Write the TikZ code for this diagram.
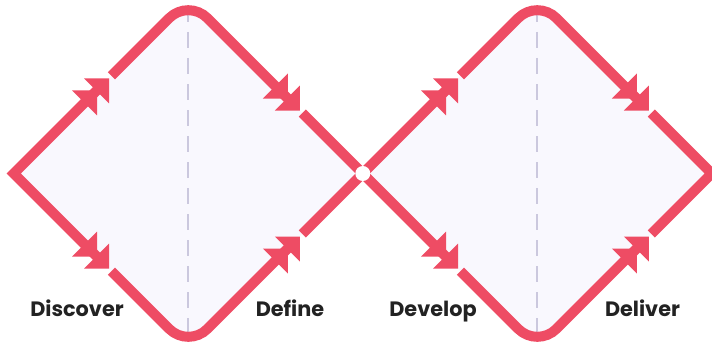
\documentclass[tikz,border=0pt]{standalone}
\usepackage{fontspec}
\setmainfont{Poppins}
\usetikzlibrary{calc}
\definecolor{dred}{HTML}{EE4C64}
\definecolor{lav}{HTML}{F9F8FE}
\definecolor{dashc}{HTML}{CBC8DE}
\definecolor{txt}{HTML}{222222}
\tikzset{
  edge/.style={draw=dred,line width=10pt},
  roundedge/.style={edge,rounded corners=27pt},
  headfill/.style={fill=dred},
  divider/.style={draw=dashc,line width=1.8pt,dash pattern=on 16pt off 10pt},
  phase/.style={font=\fontsize{20.8}{24}\selectfont\bfseries,text=txt,anchor=base,inner sep=0pt},
  junction/.style={circle,fill=white,minimum size=15pt,inner sep=0pt}
}
\newcommand\dblhead[4]{%
  \fill[headfill] (#1-12*#3,#2-12*#4) -- ++(-25*#3,0) -- ++(25*#3,-25*#4) -- cycle;
  \fill[headfill] (#1,#2) -- ++(-25*#3,0) -- ++(25*#3,-25*#4) -- cycle;
}
\begin{document}
\begin{tikzpicture}[x=1pt,y=-1pt]
\useasboundingbox (0,0) rectangle (712,345);
% vertices
\coordinate (L1) at (13.8,173.5);
\coordinate (T1) at (188.3,-1);
\coordinate (J)  at (362.8,173.5);
\coordinate (B1) at (188.3,348);
\coordinate (T2) at (537.3,-1);
\coordinate (R2) at (711.8,173.5);
\coordinate (B2) at (537.3,348);
% arrow tips
\coordinate (P1) at (109,78.3);
\coordinate (P2) at (299.8,110.5);
\coordinate (P3) at (109,268.7);
\coordinate (P4) at (299.8,236.5);
\coordinate (Q1) at (458,78.3);
\coordinate (Q2) at (648.8,110.5);
\coordinate (Q3) at (458,268.7);
\coordinate (Q4) at (648.8,236.5);
% fills
\fill[lav] (L1) -- (169.21,18.09) arc[start angle=225,end angle=315,radius=27] -- (J)
  -- (207.39,328.91) arc[start angle=45,end angle=135,radius=27] -- cycle;
\fill[lav] (J) -- (518.21,18.09) arc[start angle=225,end angle=315,radius=27] -- (R2)
  -- (556.39,328.91) arc[start angle=45,end angle=135,radius=27] -- cycle;
% dividers
\coordinate (D1a) at (188.3,6);
\coordinate (D1b) at (188.3,340);
\coordinate (D2a) at (537.3,6);
\coordinate (D2b) at (537.3,340);
\draw[divider] (D1a) -- (D1b);
\draw[divider] (D2a) -- (D2b);
% strokes, left diamond
\draw[edge] ($(P1)+(-7,7)$) -- (L1) -- ($(P3)+(-7,-7)$);
\draw[roundedge] ($(P1)+(2.5,-2.5)$) -- (T1) -- ($(P2)+(-7,-7)$);
\draw[roundedge] ($(P3)+(2.5,2.5)$) -- (B1) -- ($(P4)+(-7,7)$);
% crossing at junction
\draw[edge] ($(P2)+(2.5,2.5)$) -- (J) -- ($(Q3)+(-7,-7)$);
\draw[edge] ($(P4)+(2.5,-2.5)$) -- (J) -- ($(Q1)+(-7,7)$);
% right diamond
\draw[roundedge] ($(Q1)+(2.5,-2.5)$) -- (T2) -- ($(Q2)+(-7,-7)$);
\draw[roundedge] ($(Q3)+(2.5,2.5)$) -- (B2) -- ($(Q4)+(-7,7)$);
\draw[edge] ($(Q2)+(2.5,2.5)$) -- (R2) -- ($(Q4)+(2.5,-2.5)$);
% heads
\dblhead{109}{78.3}{1}{-1}
\dblhead{299.8}{110.5}{1}{1}
\dblhead{109}{268.7}{1}{1}
\dblhead{299.8}{236.5}{1}{-1}
\dblhead{458}{78.3}{1}{-1}
\dblhead{648.8}{110.5}{1}{1}
\dblhead{458}{268.7}{1}{1}
\dblhead{648.8}{236.5}{1}{-1}
\node[junction] (jc) at (J) {};
% labels
\node[phase] (discover) at (77,316.7) {Discover};
\node[phase] (define) at (290,316.7) {Define};
\node[phase] (develop) at (433,316.7) {Develop};
\node[phase] (deliver) at (642.5,316.7) {Deliver};
\end{tikzpicture}
\end{document}
